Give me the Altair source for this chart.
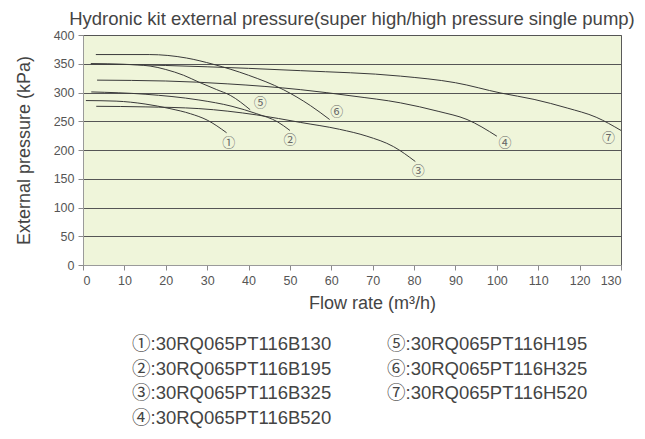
import altair as alt
import pandas as pd

# ---- data ----
series_names = ["1", "2", "3", "4", "5", "6", "7"]
circled = ["①", "②", "③", "④", "⑤", "⑥", "⑦"]
models = ["30RQ065PT116B130", "30RQ065PT116B195", "30RQ065PT116B325",
          "30RQ065PT116B520", "30RQ065PT116H195", "30RQ065PT116H325",
          "30RQ065PT116H520"]

x_ticks = [0, 10, 20, 30, 40, 50, 60, 70, 80, 90, 100, 110, 120, 130]
y_ticks = [0, 50, 100, 150, 200, 250, 300, 350, 400]

c1_x = [0.7, 8, 15, 21, 26, 30, 34.7]
c1_y = [286, 285, 280, 272, 263, 252, 230]
c2_x = [2, 15, 28, 36, 42, 47, 50]
c2_y = [301, 297, 287, 276, 263, 249, 234]
c3_x = [3.2, 15, 28, 42, 52.5, 62, 68.6, 75, 80.3]
c3_y = [276, 275, 272, 261, 248, 236, 224, 206, 180]
c4_x = [3.4, 20, 35, 52.5, 65, 76.7, 86, 92.8, 100]
c4_y = [321.5, 320, 315, 305, 294, 282, 267, 253, 224]
c5_x = [1.9, 10, 16.2, 20, 24.3, 28, 32.3, 35.6, 40.4]
c5_y = [350, 349, 346, 340, 330, 318, 305, 295, 270]
c6_x = [3.1, 16, 25, 31.5, 40, 48.4, 55, 59.6]
c6_y = [366, 366, 360, 349, 330, 305, 277, 253]
c7_x = [1.9, 20, 40, 52.5, 76.7, 90, 101, 109, 117, 124, 130]
c7_y = [350, 347, 342, 338, 328.5, 317, 299, 288, 273, 257, 234]

label_x = [35.2, 50, 81, 102, 42.8, 61.3, 127]
label_y = [213, 217, 163.5, 211.6, 281, 266.6, 221]

legend_col = [0, 0, 0, 0, 1, 1, 1]
legend_row = [0, 1, 2, 3, 0, 1, 2]

curves_x = [c1_x, c2_x, c3_x, c4_x, c5_x, c6_x, c7_x]
curves_y = [c1_y, c2_y, c3_y, c4_y, c5_y, c6_y, c7_y]

rows = []
for name, xs, ys in zip(series_names, curves_x, curves_y):
    for i, (xv, yv) in enumerate(zip(xs, ys)):
        rows.append({"series": name, "order": i, "flow": xv, "pressure": yv})
curve_df = pd.DataFrame(rows)

label_df = pd.DataFrame({"label": circled, "flow": label_x, "pressure": label_y})
legend_df = pd.DataFrame({
    "text": [c + ":" + m for c, m in zip(circled, models)],
    "col": legend_col,
    "row": legend_row,
})

FONT = "Liberation Sans, Arial, Noto Sans CJK SC, sans-serif"

x_scale = alt.Scale(domain=[0, 130], nice=False)
y_scale = alt.Scale(domain=[0, 400], nice=False)

x_axis = alt.Axis(title="Flow rate (m³/h)", values=x_ticks, grid=False,
                  titleX=289, titlePadding=8, labelOverlap=False)
y_axis = alt.Axis(title="External pressure (kPa)", values=y_ticks, grid=True,
                  titlePadding=20, labelOverlap=False)

lines = alt.Chart(curve_df).mark_line(
    color="#3a3a3a", strokeWidth=1, interpolate="monotone"
).encode(
    x=alt.X("flow:Q", scale=x_scale, axis=x_axis),
    y=alt.Y("pressure:Q", scale=y_scale, axis=y_axis),
    detail="series:N",
    order="order:Q",
)

labels = alt.Chart(label_df).mark_text(
    font="Noto Sans CJK SC", fontSize=13, color="#666666"
).encode(
    x=alt.X("flow:Q", scale=x_scale, axis=x_axis),
    y=alt.Y("pressure:Q", scale=y_scale, axis=y_axis),
    text="label:N",
)

main = alt.layer(lines, labels)

legend = alt.Chart(legend_df).mark_text(
    align="left", baseline="middle", font=FONT, fontSize=18.5, color="#444444"
).encode(
    x=alt.X("col:Q", scale=alt.Scale(domain=[0, 1], range=[49, 304]), axis=None),
    y=alt.Y("row:Q", scale=alt.Scale(domain=[0, 3], range=[309, 383]), axis=None),
    text="text:N",
)

chart = alt.layer(main, legend).resolve_scale(
    x="independent", y="independent"
).properties(
    width=538,
    height=230,
    background="white",
    title=alt.TitleParams(
        "Hydronic kit external pressure(super high/high pressure single pump)",
        fontSize=18.5, font=FONT, fontWeight="normal", color="#444444",
        anchor="middle", offset=1,
    ),
    autosize=alt.AutoSizeParams(type="none"),
    padding={"left": 75, "top": 27, "right": 16, "bottom": 166},
).configure_view(
    fill="#EFF5DA", stroke="#5a5a5a", strokeWidth=1
).configure_axis(
    labelFont=FONT, titleFont=FONT, labelFontSize=12.5, titleFontSize=18,
    labelColor="#555555", titleColor="#444444", titleFontWeight="normal",
    domainColor="#9a9a9a", tickColor="#8a8a8a", tickSize=5, labelPadding=4,
    gridColor="#555555", gridWidth=1, gridOpacity=1,
)

chart.save("out.html", embed_options={"renderer": "svg", "actions": False})
